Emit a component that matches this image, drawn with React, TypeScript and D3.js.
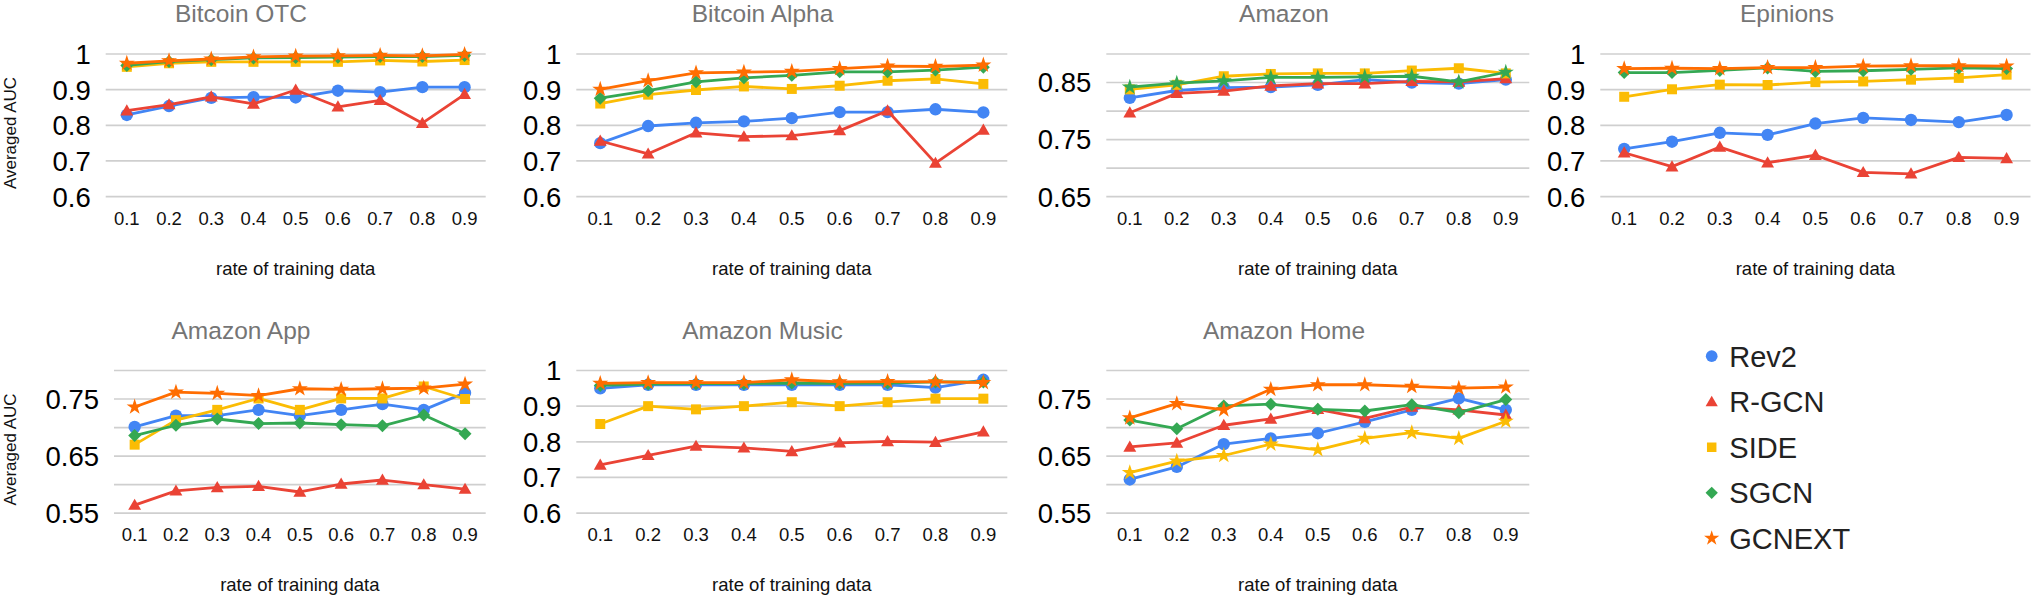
import * as d3 from 'd3';
import React from 'react';

const rates = ['0.1', '0.2', '0.3', '0.4', '0.5', '0.6', '0.7', '0.8', '0.9'];
const methods = ['Rev2', 'R-GCN', 'SIDE', 'SGCN', 'GCNEXT'];

// Bitcoin OTC
const otcRev2 = [0.829, 0.854, 0.877, 0.879, 0.878, 0.897, 0.893, 0.907, 0.907];
const otcRgcn = [0.841, 0.858, 0.88, 0.86, 0.899, 0.852, 0.87, 0.806, 0.887];
const otcSide = [0.964, 0.974, 0.978, 0.978, 0.978, 0.978, 0.982, 0.979, 0.983];
const otcSgcn = [0.968, 0.979, 0.984, 0.989, 0.99, 0.991, 0.993, 0.993, 0.996];
const otcGcnext = [0.974, 0.981, 0.986, 0.992, 0.994, 0.995, 0.996, 0.995, 0.999];

// Bitcoin Alpha
const alphaRev2 = [0.75, 0.798, 0.807, 0.811, 0.82, 0.837, 0.837, 0.845, 0.836];
const alphaRgcn = [0.756, 0.72, 0.779, 0.768, 0.771, 0.785, 0.841, 0.694, 0.787];
const alphaSide = [0.861, 0.886, 0.899, 0.909, 0.902, 0.911, 0.925, 0.93, 0.916];
const alphaSgcn = [0.876, 0.897, 0.922, 0.933, 0.94, 0.95, 0.95, 0.955, 0.963];
const alphaGcnext = [0.901, 0.925, 0.947, 0.949, 0.951, 0.959, 0.966, 0.965, 0.969];

// Amazon
const amzRev2 = [0.823, 0.836, 0.841, 0.842, 0.846, 0.855, 0.85, 0.848, 0.855];
const amzRgcn = [0.797, 0.831, 0.835, 0.844, 0.848, 0.848, 0.852, 0.851, 0.857];
const amzSide = [0.838, 0.846, 0.861, 0.865, 0.866, 0.866, 0.871, 0.875, 0.866];
const amzSgcn = [0.842, 0.849, 0.853, 0.859, 0.859, 0.86, 0.861, 0.851, 0.868];

// Epinions
const epiRev2 = [0.734, 0.754, 0.779, 0.773, 0.805, 0.821, 0.815, 0.809, 0.829];
const epiRgcn = [0.723, 0.684, 0.739, 0.695, 0.716, 0.668, 0.664, 0.71, 0.707];
const epiSide = [0.88, 0.901, 0.914, 0.913, 0.921, 0.923, 0.928, 0.933, 0.942];
const epiSgcn = [0.948, 0.948, 0.954, 0.961, 0.951, 0.953, 0.957, 0.961, 0.959];
const epiGcnext = [0.959, 0.96, 0.959, 0.962, 0.962, 0.966, 0.967, 0.967, 0.966];

// Amazon App
const appRev2 = [0.701, 0.721, 0.721, 0.731, 0.721, 0.731, 0.741, 0.731, 0.761];
const appRgcn = [0.564, 0.589, 0.595, 0.597, 0.587, 0.601, 0.608, 0.6, 0.592];
const appSide = [0.67, 0.713, 0.731, 0.751, 0.731, 0.751, 0.751, 0.772, 0.75];
const appSgcn = [0.686, 0.704, 0.715, 0.707, 0.708, 0.705, 0.703, 0.722, 0.689];
const appGcnext = [0.736, 0.762, 0.76, 0.756, 0.768, 0.767, 0.768, 0.769, 0.776];

// Amazon Music
const musRev2 = [0.95, 0.96, 0.96, 0.96, 0.96, 0.96, 0.96, 0.952, 0.974];
const musRgcn = [0.735, 0.762, 0.788, 0.783, 0.773, 0.797, 0.801, 0.799, 0.828];
const musSide = [0.85, 0.9, 0.891, 0.9, 0.911, 0.9, 0.911, 0.921, 0.921];
const musSgcn = [0.958, 0.962, 0.963, 0.963, 0.965, 0.964, 0.965, 0.968, 0.968];
const musGcnext = [0.964, 0.966, 0.966, 0.966, 0.974, 0.968, 0.969, 0.968, 0.966];

// Amazon Home
const homeRev2 = [0.609, 0.631, 0.671, 0.681, 0.69, 0.71, 0.731, 0.751, 0.731];
const homeRgcn = [0.666, 0.673, 0.704, 0.715, 0.732, 0.716, 0.736, 0.731, 0.722];
const homeSide = [0.621, 0.641, 0.651, 0.671, 0.661, 0.681, 0.691, 0.681, 0.711];
const homeSgcn = [0.713, 0.698, 0.738, 0.741, 0.732, 0.729, 0.74, 0.726, 0.749];
const homeGcnext = [0.717, 0.742, 0.731, 0.767, 0.775, 0.775, 0.772, 0.769, 0.771];

const colors: Record<string, string> = {
  Rev2: '#4285f4',
  'R-GCN': '#ea4335',
  SIDE: '#fbbc04',
  SGCN: '#34a853',
  GCNEXT: '#ff6d01',
};
const markers: Record<string, string> = {
  Rev2: 'circle',
  'R-GCN': 'triangle',
  SIDE: 'square',
  SGCN: 'diamond',
  GCNEXT: 'star',
};

const FONT = '"Liberation Sans", Arial, sans-serif';

type Series = { name: string; values: number[]; marker?: string };
type Panel = {
  title: string;
  series: Series[];
  lo: number;
  hi: number;
  step: number;
  labelEvery: number;
  left: number;
  right: number;
  top: number;
  titleX: number;
  yTitle?: boolean;
};

const panels: Panel[] = [
  {
    title: 'Bitcoin OTC', lo: 0.6, hi: 1, step: 0.1, labelEvery: 1,
    left: 105.7, right: 485.7, top: 54, titleX: 241, yTitle: true,
    series: [
      { name: 'Rev2', values: otcRev2 }, { name: 'R-GCN', values: otcRgcn },
      { name: 'SIDE', values: otcSide }, { name: 'SGCN', values: otcSgcn },
      { name: 'GCNEXT', values: otcGcnext },
    ],
  },
  {
    title: 'Bitcoin Alpha', lo: 0.6, hi: 1, step: 0.1, labelEvery: 1,
    left: 576.3, right: 1007.3, top: 54, titleX: 762.5,
    series: [
      { name: 'Rev2', values: alphaRev2 }, { name: 'R-GCN', values: alphaRgcn },
      { name: 'SIDE', values: alphaSide }, { name: 'SGCN', values: alphaSgcn },
      { name: 'GCNEXT', values: alphaGcnext },
    ],
  },
  {
    title: 'Amazon', lo: 0.65, hi: 0.9, step: 0.05, labelEvery: 2,
    left: 1106.3, right: 1529.3, top: 54, titleX: 1284,
    series: [
      { name: 'Rev2', values: amzRev2 }, { name: 'R-GCN', values: amzRgcn },
      { name: 'SIDE', values: amzSide }, { name: 'SGCN', values: amzSgcn, marker: 'star' },
    ],
  },
  {
    title: 'Epinions', lo: 0.6, hi: 1, step: 0.1, labelEvery: 1,
    left: 1600.3, right: 2030.5, top: 54, titleX: 1787,
    series: [
      { name: 'Rev2', values: epiRev2 }, { name: 'R-GCN', values: epiRgcn },
      { name: 'SIDE', values: epiSide }, { name: 'SGCN', values: epiSgcn },
      { name: 'GCNEXT', values: epiGcnext },
    ],
  },
  {
    title: 'Amazon App', lo: 0.55, hi: 0.8, step: 0.05, labelEvery: 2,
    left: 114, right: 485.7, top: 370.5, titleX: 241, yTitle: true,
    series: [
      { name: 'Rev2', values: appRev2 }, { name: 'R-GCN', values: appRgcn },
      { name: 'SIDE', values: appSide }, { name: 'SGCN', values: appSgcn },
      { name: 'GCNEXT', values: appGcnext },
    ],
  },
  {
    title: 'Amazon Music', lo: 0.6, hi: 1, step: 0.1, labelEvery: 1,
    left: 576.3, right: 1007.3, top: 370.5, titleX: 762.5,
    series: [
      { name: 'Rev2', values: musRev2 }, { name: 'R-GCN', values: musRgcn },
      { name: 'SIDE', values: musSide }, { name: 'SGCN', values: musSgcn },
      { name: 'GCNEXT', values: musGcnext },
    ],
  },
  {
    title: 'Amazon Home', lo: 0.55, hi: 0.8, step: 0.05, labelEvery: 2,
    left: 1106.3, right: 1529.3, top: 370.5, titleX: 1284,
    series: [
      { name: 'Rev2', values: homeRev2 }, { name: 'R-GCN', values: homeRgcn },
      { name: 'SIDE', values: homeSide, marker: 'star' }, { name: 'SGCN', values: homeSgcn },
      { name: 'GCNEXT', values: homeGcnext },
    ],
  },
];

const PLOT_H = 142.6;

function symbolPath(kind: string, scale = 1): string {
  switch (kind) {
    case 'circle':
      return d3.symbol(d3.symbolCircle, 120 * scale)()!;
    case 'triangle':
      return d3.symbol(d3.symbolTriangle, 72 * scale)()!;
    case 'square':
      return d3.symbol(d3.symbolSquare, 100 * scale)()!;
    case 'diamond':
      return d3.symbol(d3.symbolSquare, 84 * scale)()!;
    default:
      return d3.symbol(d3.symbolStar, 80 * scale)()!;
  }
}

const Marker: React.FC<{ kind: string; x: number; y: number; color: string; scale?: number }> = ({
  kind, x, y, color, scale = 1,
}) => (
  <path
    d={symbolPath(kind, scale)}
    transform={`translate(${x},${y})${kind === 'diamond' ? ' rotate(45)' : ''}${kind === 'triangle' ? ' translate(0,1)' : ''}`}
    fill={color}
  />
);

const ChartPanel: React.FC<{ p: Panel }> = ({ p }) => {
  const x = d3.scalePoint<string>().domain(rates).range([p.left, p.right]).padding(0.5);
  const y = d3.scaleLinear().domain([p.lo, p.hi]).range([p.top + PLOT_H, p.top]);
  const n = Math.round((p.hi - p.lo) / p.step);
  const ticks = d3.range(n + 1).map((i) => +(p.lo + i * p.step).toFixed(3));
  const line = d3
    .line<number>()
    .x((_, i) => x(rates[i])!)
    .y((d) => y(d));
  const cx = (p.left + p.right) / 2;
  const bottom = p.top + PLOT_H;

  return (
    <g>
      <text x={p.titleX} y={p.top - 32} textAnchor="middle" fontSize={24.5} fill="#757575" fontFamily={FONT}>
        {p.title}
      </text>
      {ticks.map((t, i) => (
        <g key={t}>
          <line x1={p.left} x2={p.right} y1={y(t)} y2={y(t)} stroke="#cfcfcf" strokeWidth={1.7} />
          {i % p.labelEvery === 0 && (
            <text x={p.left - 15} y={y(t)} dy="0.36em" textAnchor="end" fontSize={27.5} fill="#000" fontFamily={FONT}>
              {String(t)}
            </text>
          )}
        </g>
      ))}
      {rates.map((r) => (
        <text key={r} x={x(r)} y={bottom + 21.5} dy="0.36em" textAnchor="middle" fontSize={18.5} fill="#111" fontFamily={FONT}>
          {r}
        </text>
      ))}
      <text x={cx} y={bottom + 71.5} dy="0.36em" textAnchor="middle" fontSize={18.5} fill="#111" fontFamily={FONT}>
        rate of training data
      </text>
      {p.yTitle && (
        <text
          transform={`translate(9.5,${p.top + 79}) rotate(-90)`}
          dy="0.36em"
          textAnchor="middle"
          fontSize={17}
          fill="#111"
          fontFamily={FONT}
        >
          Averaged AUC
        </text>
      )}
      {p.series.map((s) => (
        <g key={s.name}>
          <path d={line(s.values)!} fill="none" stroke={colors[s.name]} strokeWidth={2.8} strokeLinejoin="round" />
          {s.values.map((v, i) => (
            <Marker key={i} kind={s.marker ?? markers[s.name]} x={x(rates[i])!} y={y(v)} color={colors[s.name]} />
          ))}
        </g>
      ))}
    </g>
  );
};

const App: React.FC = () => {
  const legend = d3.scalePoint<string>().domain(methods).range([356.2, 538.3]);
  return (
    <svg
      width={2031}
      height={603}
      style={{ position: 'absolute', left: 0, top: 0, background: '#fff', display: 'block' }}
    >
      <rect width={2031} height={603} fill="#fff" />
      {panels.map((p) => (
        <ChartPanel key={p.title} p={p} />
      ))}
      {methods.map((m) => (
        <g key={m}>
          <Marker kind={markers[m]} x={1711.7} y={legend(m)!} color={colors[m]} scale={0.9} />
          <text x={1729.3} y={legend(m)!} dy="0.36em" fontSize={29} fill="#222" fontFamily={FONT}>
            {m}
          </text>
        </g>
      ))}
    </svg>
  );
};

export default App;
